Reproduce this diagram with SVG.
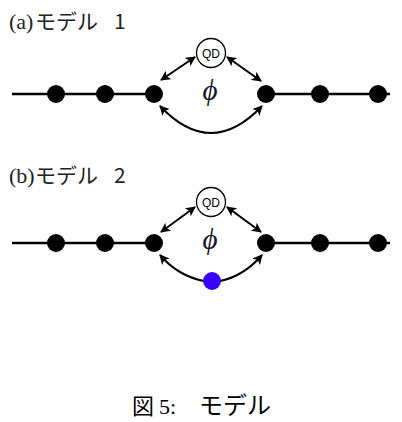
<svg xmlns="http://www.w3.org/2000/svg" width="402" height="422" viewBox="0 0 402 422">
<style>
.ln{stroke:#000;stroke-width:2.5;fill:none}
.ar{stroke:#000;stroke-width:2;fill:none}
.dot{fill:#000}
.qd{fill:#fff;stroke:#000;stroke-width:1.3}
.qdt{font-family:"Liberation Sans",Arial,sans-serif;font-size:12px;text-anchor:middle}
.phi{font-family:"Liberation Serif",serif;font-style:italic;font-size:29px;text-anchor:middle;fill:#141428}
.lab{font-family:"Noto Sans CJK JP",sans-serif;font-size:21px;fill:#222}
.cap{font-family:"Noto Sans CJK JP",sans-serif;font-size:24px;fill:#000}
.lab.ser,.cap.ser{font-family:"Liberation Serif",serif;font-size:22px}
</style>
<defs>
<marker id="ah" viewBox="0 0 10 10" refX="9" refY="5" markerWidth="5" markerHeight="5" orient="auto-start-reverse" markerUnits="strokeWidth">
<path d="M0,0 L10,5 L0,10 L2.5,5 Z" fill="#000"/>
</marker>
</defs>
<g id="labels">
<text class="lab ser" x="9" y="29">(a)</text>
<text class="lab" x="35" y="29">モデル</text>
<text class="lab" x="114" y="29">1</text>
<text class="lab ser" x="9" y="183">(b)</text>
<text class="lab" x="35" y="183">モデル</text>
<text class="lab" x="114" y="183">2</text>
</g>
<g id="connectors">
<line class="ln" x1="12" y1="94" x2="154" y2="94"/>
<line class="ln" x1="266" y1="94" x2="390" y2="94"/>
<line class="ar" x1="161" y1="80" x2="195" y2="57" marker-start="url(#ah)" marker-end="url(#ah)"/>
<line class="ar" x1="227" y1="57" x2="261" y2="81" marker-start="url(#ah)" marker-end="url(#ah)"/>
<path class="ar" d="M160,106 Q211,160 262,106" marker-start="url(#ah)" marker-end="url(#ah)"/>
<line class="ln" x1="12" y1="243" x2="154" y2="243"/>
<line class="ln" x1="266" y1="243" x2="390" y2="243"/>
<line class="ar" x1="161" y1="232" x2="195" y2="207" marker-start="url(#ah)" marker-end="url(#ah)"/>
<line class="ar" x1="227" y1="207" x2="261" y2="232" marker-start="url(#ah)" marker-end="url(#ah)"/>
<path class="ar" d="M160,255 Q178,276 204,281" marker-start="url(#ah)"/>
<path class="ar" d="M262,255 Q244,276 220,281" marker-start="url(#ah)"/>
</g>
<g id="a-nodes">
<circle class="dot" cx="56" cy="94" r="9"/>
<circle class="dot" cx="105" cy="94" r="9"/>
<circle class="dot" cx="154" cy="94" r="9"/>
<circle class="dot" cx="266" cy="94" r="9"/>
<circle class="dot" cx="320" cy="94" r="9"/>
<circle class="dot" cx="378" cy="94" r="9"/>
</g>
<g id="a-qd"><circle class="qd" cx="211" cy="53" r="14.5"/><text class="qdt" x="211" y="57.5">QD</text></g>
<g id="a-phi"><text class="phi" x="210" y="100">ϕ</text></g>
<g id="b-nodes">
<circle class="dot" cx="56" cy="243" r="9"/>
<circle class="dot" cx="105" cy="243" r="9"/>
<circle class="dot" cx="154" cy="243" r="9"/>
<circle class="dot" cx="266" cy="243" r="9"/>
<circle class="dot" cx="320" cy="243" r="9"/>
<circle class="dot" cx="378" cy="243" r="9"/>
</g>
<g id="b-qd"><circle class="qd" cx="211" cy="202" r="14.5"/><text class="qdt" x="211" y="206.5">QD</text></g>
<g id="b-phi"><text class="phi" x="210" y="249">ϕ</text></g>
<g id="b-blue"><circle cx="212" cy="281" r="9" fill="#3a00ff"/></g>
<g id="caption">
<text class="cap" x="132" y="414" style="font-size:22px">図</text>
<text class="cap ser" x="159" y="414">5:</text>
<text class="cap" x="199" y="414">モデル</text>
</g>
</svg>
